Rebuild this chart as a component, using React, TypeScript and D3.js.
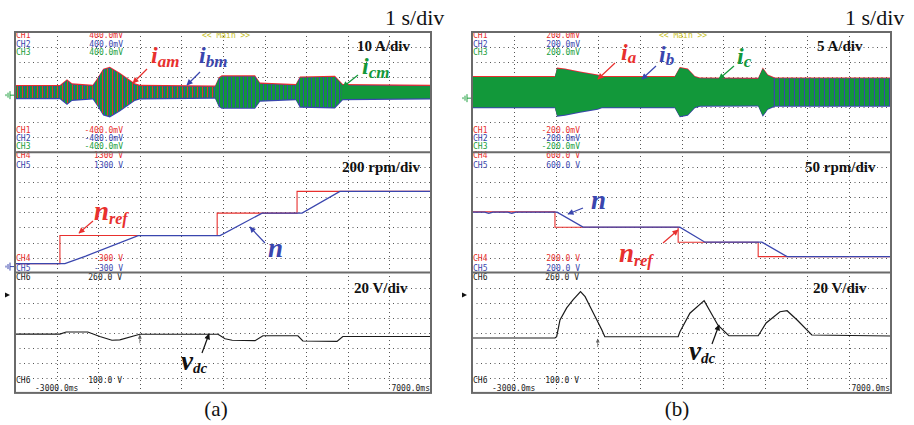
import React from 'react';
import * as d3 from 'd3';

// ---------- DATA ----------
const divisions = d3.range(-3, 8); // time axis, s (1 s/div)

// Panel (a): phase-current envelope (A), 10 A/div
const envTimeA = [-3, -1.92, -1.87, -1.75, -1.63, -1.13, -1.03, -0.88, -0.72, -0.48, -0.12, 0, 1.81, 1.9, 1.97, 2.77, 2.89, 3.75, 3.85, 4.69, 4.88, 7];
const envAmpA = [3.9, 3.9, 5, 7.7, 5, 4, 8, 14.7, 16, 12, 5, 4, 3.5, 9, 10.3, 10.3, 5.5, 4.5, 9.5, 10, 4.5, 4];
// Panel (b): phase-current envelope (A), 5 A/div
const envTimeB = [-3, -1.02, -0.97, -0.78, -0.42, 0.0, 0.1, 1.84, 1.96, 2.15, 2.32, 2.44, 3.83, 3.94, 4.06, 4.23, 7];
const envAmpB = [5.0, 5.0, 7.8, 7.5, 6.5, 5.5, 5.0, 5.0, 8.0, 7.5, 5.0, 4.5, 4.4, 7.8, 5.5, 4.5, 4.5];

// Speed, panel (a) (CH4/CH5 units, 200 rpm/div)
const nRefTimeA = [-3, -1.92, -1.92, 1.86, 1.86, 3.78, 3.78, 7];
const nRefValA = [-180, -180, 193, 193, 491, 491, 780, 780];
const nTimeA = [-3, -1.8, -1.5, -1.3, -0.04, 1.93, 2.94, 3.9, 4.81, 7];
const nValA = [-180, -180, -120, -80, 193, 193, 491, 491, 780, 780];
// Speed, panel (b) (50 rpm/div)
const nRefTimeB = [-3, -1.02, -1.02, 1.92, 1.92, 3.83, 3.83, 7];
const nRefValB = [402, 402, 351, 351, 301, 301, 253, 253];
const nTimeB = [-3, -2.7, -2.6, -2.5, -2.15, -2.05, -1.95, -0.97, -0.35, 1.96, 2.56, 3.92, 4.52, 7];
const nValB = [401, 401, 397, 401, 401, 397, 401, 401, 351, 351, 301, 301, 253, 253];

// DC-link voltage (V), 20 V/div
const vdcTimeA = [-3, -1.92, -1.77, -1.25, -0.96, -0.67, -0.48, 0, 1.88, 2.05, 2.22, 2.77, 2.96, 3.8, 3.92, 4.74, 4.88, 7];
const vdcValA = [178.3, 178.3, 181, 181, 175, 170, 170.5, 178, 178, 172, 170, 169.5, 176, 176, 169, 168.5, 175, 175];
const vdcTimeB = [-3, -1.02, -0.98, -0.9, -0.74, -0.59, -0.41, -0.3, -0.18, -0.02, 0.1, 0.17, 1.92, 1.96, 2.2, 2.54, 2.87, 3.13, 3.83, 4.02, 4.35, 4.52, 4.76, 5.11, 7];
const vdcValB = [173, 173, 174.7, 197, 213, 223.6, 234.7, 228, 214.7, 197, 183.6, 174.7, 174.7, 181, 206, 222.7, 190, 176, 176, 193, 208, 209.3, 197, 177, 175.7];

// ---------- LAYOUT / STYLE ----------
const RED = '#e8302e';
const BLUE = '#3a46ae';
const GREEN = '#12983a';
const frameTop = 32;
const rowH = 120.3;
const rows = [0, 1, 2].map(i => [frameTop + i * rowH, frameTop + (i + 1) * rowH]);
const frameBottom = rows[2][1];
const mono = "'DejaVu Sans Mono', monospace";
const serif = "'Liberation Serif', 'Times New Roman', serif";

type Seg = { t0: number; t1: number; fill: string };
type Ann = { x: number; y: number; main: string; sub: string; color: string; size: number; subSize: number; dy: number; ax1: number; ay1: number; ax2: number; ay2: number };

interface PanelCfg {
  id: string; x0: number; x1: number;
  curDiv: number; envT: number[]; envA: number[]; segs: Seg[];
  fringe: number;
  spdDomain: [number, number];
  refT: number[]; refV: number[]; nT: number[]; nV: number[];
  vT: number[]; vV: number[];
  chTop: string; chBot: string; spTop: string; spBot: string;
  curTitle: string; spTitle: string; vTitle: string;
  curTitleX: number; spTitleX: number; vTitleX: number;
  caption: string; capX: number; sdivX: number;
  anns: Ann[];
}

const panels: PanelCfg[] = [
  {
    id: 'a', x0: 15, x1: 431, curDiv: 10, envT: envTimeA, envA: envAmpA, fringe: 0.9,
    segs: [{ t0: -3, t1: 1.85, fill: 'url(#pMix)' }, { t0: 1.85, t1: 4.85, fill: 'url(#pGB)' }, { t0: 4.85, t1: 7, fill: GREEN }],
    spdDomain: [-300, 1300], refT: nRefTimeA, refV: nRefValA, nT: nTimeA, nV: nValA,
    vT: vdcTimeA, vV: vdcValA,
    chTop: '400.0mV', chBot: '-400.0mV', spTop: '1300 V', spBot: '-300 V',
    curTitle: '10 A/div', spTitle: '200 rpm/div', vTitle: '20 V/div',
    curTitleX: 357, spTitleX: 342, vTitleX: 354, caption: '(a)', capX: 216, sdivX: 385,
    anns: [
      { x: 151, y: 63, main: 'i', sub: 'am', color: RED, size: 24, subSize: 17, dy: 4, ax1: 147, ay1: 69, ax2: 133, ay2: 83 },
      { x: 199, y: 63, main: 'i', sub: 'bm', color: BLUE, size: 24, subSize: 17, dy: 4, ax1: 200, ay1: 72, ax2: 187, ay2: 85 },
      { x: 362, y: 74, main: 'i', sub: 'cm', color: GREEN, size: 24, subSize: 17, dy: 4, ax1: 358, ay1: 75, ax2: 343, ay2: 87 },
      { x: 94, y: 220, main: 'n', sub: 'ref', color: RED, size: 27, subSize: 16, dy: 4, ax1: 93, ay1: 221, ax2: 79, ay2: 233 },
      { x: 268, y: 257, main: 'n', sub: '', color: BLUE, size: 27, subSize: 16, dy: 0, ax1: 265, ay1: 243, ax2: 250, ay2: 227 },
      { x: 181, y: 370, main: 'v', sub: 'dc', color: '#111', size: 27, subSize: 15, dy: 3, ax1: 202, ay1: 353, ax2: 209, ay2: 334 },
    ],
  },
  {
    id: 'b', x0: 472, x1: 891, curDiv: 5, envT: envTimeB, envA: envAmpB, fringe: 0.7,
    segs: [{ t0: -3, t1: 4.2, fill: GREEN }, { t0: 4.2, t1: 7, fill: 'url(#pGB5)' }],
    spdDomain: [200, 600], refT: nRefTimeB, refV: nRefValB, nT: nTimeB, nV: nValB,
    vT: vdcTimeB, vV: vdcValB,
    chTop: '200.0mV', chBot: '-200.0mV', spTop: '600.0 V', spBot: '200.0 V',
    curTitle: '5 A/div', spTitle: '50 rpm/div', vTitle: '20 V/div',
    curTitleX: 817, spTitleX: 805, vTitleX: 813, caption: '(b)', capX: 677, sdivX: 845,
    anns: [
      { x: 621, y: 60, main: 'i', sub: 'a', color: RED, size: 24, subSize: 17, dy: 3, ax1: 615, ay1: 63, ax2: 598, ay2: 79 },
      { x: 659, y: 62, main: 'i', sub: 'b', color: BLUE, size: 24, subSize: 17, dy: 3, ax1: 656, ay1: 66, ax2: 642, ay2: 79 },
      { x: 737, y: 64, main: 'i', sub: 'c', color: GREEN, size: 24, subSize: 17, dy: 3, ax1: 734, ay1: 66, ax2: 719, ay2: 79 },
      { x: 591, y: 209, main: 'n', sub: '', color: BLUE, size: 27, subSize: 16, dy: 0, ax1: 583, ay1: 208, ax2: 568, ay2: 214 },
      { x: 619, y: 262, main: 'n', sub: 'ref', color: RED, size: 27, subSize: 16, dy: 4, ax1: 663, ay1: 243, ax2: 678, ay2: 230 },
      { x: 689, y: 360, main: 'v', sub: 'dc', color: '#111', size: 27, subSize: 15, dy: 3, ax1: 712, ay1: 344, ax2: 719, ay2: 325 },
    ],
  },
];

function markerId(c: string) {
  return c === RED ? 'arRed' : c === BLUE ? 'arBlue' : c === GREEN ? 'arGreen' : 'arBlack';
}

function Panel({ p }: { p: PanelCfg }) {
  const x = d3.scaleLinear().domain([-3, 7]).range([p.x0, p.x1]);
  const yCur = d3.scaleLinear().domain([-4 * p.curDiv, 4 * p.curDiv]).range([rows[0][1], rows[0][0]]);
  const ySpd = d3.scaleLinear().domain(p.spdDomain).range([rows[1][1], rows[1][0]]);
  const yV = d3.scaleLinear().domain([100, 260]).range([rows[2][1], rows[2][0]]);
  const idx = p.envT.map((_, i) => i);
  const band = (grow: number, shift: number) =>
    d3.area<number>()
      .x(i => x(p.envT[i]))
      .y0(i => yCur(p.envA[i]) - grow + shift)
      .y1(i => yCur(-p.envA[i]) + grow + shift)(idx) || '';
  const line = (T: number[], V: number[], ys: d3.ScaleLinear<number, number>) =>
    d3.line<number>().x(i => x(T[i])).y(i => ys(V[i]))(T.map((_, i) => i)) || '';
  const lx = p.x0 + 1;
  const vx = p.x0 + 108;
  const W = p.x1 - p.x0;
  const v0 = p.vV[p.vT.indexOf(0)] ?? p.vV[0];
  return (
    <g>
      {/* grid */}
      {divisions.slice(1, -1).map(t => (
        <line key={'v' + t} x1={Math.round(x(t)) + 0.5} x2={Math.round(x(t)) + 0.5} y1={frameTop} y2={frameBottom} stroke="#555" strokeWidth={1} strokeDasharray="1 3" />
      ))}
      {rows.map((r, ri) => d3.range(1, 8).map(k => {
        const y = Math.round(r[0] + (k * rowH) / 8) + 0.5;
        return <line key={'h' + ri + k} x1={p.x0} x2={p.x1} y1={y} y2={y} stroke="#555" strokeWidth={1} strokeDasharray="1 3.5" />;
      }))}
      {/* scope texts */}
      <g fontFamily={mono} fontSize={8}>
        {[['CH1', RED, 38], ['CH2', BLUE, 46.5], ['CH3', '#22a040', 55]].map(([c, col, y]) => (
          <g key={'t' + c}>
            <text x={lx} y={y as number} fill={col as string}>{c}</text>
            <text x={vx} y={y as number} fill={col as string} textAnchor="end">{p.chTop}</text>
          </g>
        ))}
        {[['CH1', RED, 133], ['CH2', BLUE, 141], ['CH3', '#22a040', 149]].map(([c, col, y]) => (
          <g key={'b' + c}>
            <text x={lx} y={y as number} fill={col as string}>{c}</text>
            <text x={vx} y={y as number} fill={col as string} textAnchor="end">{p.chBot}</text>
          </g>
        ))}
        <text x={p.x0 + 187} y={38} fill="#c8c21e">{'<< Main >>'}</text>
        {[['CH4', RED, 158], ['CH5', BLUE, 167.5]].map(([c, col, y]) => (
          <g key={'s' + c}>
            <text x={lx} y={y as number} fill={col as string}>{c}</text>
            <text x={vx} y={y as number} fill={col as string} textAnchor="end">{p.spTop}</text>
          </g>
        ))}
        {[['CH4', RED, 261], ['CH5', BLUE, 270.5]].map(([c, col, y]) => (
          <g key={'sb' + c}>
            <text x={lx} y={y as number} fill={col as string}>{c}</text>
            <text x={vx} y={y as number} fill={col as string} textAnchor="end">{p.spBot}</text>
          </g>
        ))}
        <text x={lx} y={280} fill="#222">CH6</text>
        <text x={vx - 1} y={280} fill="#222" textAnchor="end">260.0 V</text>
        <text x={lx} y={383} fill="#222">CH6</text>
        <text x={vx - 1} y={383} fill="#222" textAnchor="end">100.0 V</text>
        <text x={p.x0 + 20} y={391} fill="#222">-3000.0ms</text>
        <text x={p.x1 - 1} y={391} fill="#222" textAnchor="end">7000.0ms</text>
      </g>
      {/* currents */}
      <defs>
        {p.segs.map((s, i) => (
          <clipPath id={`clip-${p.id}-${i}`} key={i}>
            <rect x={x(s.t0)} y={rows[0][0]} width={x(s.t1) - x(s.t0)} height={rowH} />
          </clipPath>
        ))}
      </defs>
      <path d={band(p.fringe, -0.5)} fill={RED} />
      <path d={band(p.fringe * 0.8, 0.5)} fill={BLUE} />
      {p.segs.map((s, i) => (
        <path key={i} d={band(0, 0)} fill={s.fill} clipPath={`url(#clip-${p.id}-${i})`} />
      ))}
      {/* speed */}
      <path d={line(p.refT, p.refV, ySpd)} fill="none" stroke={RED} strokeWidth={1.1} />
      <path d={line(p.nT, p.nV, ySpd)} fill="none" stroke={BLUE} strokeWidth={1.3} />
      {/* vdc */}
      <path d={line(p.vT, p.vV, yV)} fill="none" stroke="#1a1a1a" strokeWidth={1.2} />
      {/* trigger marker */}
      <line x1={x(0)} x2={x(0)} y1={yV(v0) + 9} y2={yV(v0) + 1} stroke="#666" strokeWidth={0.8} markerEnd="url(#arGray)" />
      {/* side markers */}
      <g transform={`translate(${p.x0 - 9},${yCur(-2)})`} stroke="#22a040" strokeWidth={1} fill="none">
        <path d="M0,0 H4 M4,-4 V4 M6,-2.5 V2.5 M8,-1 V1" transform="rotate(180 4 0)" />
      </g>
      {p.id === 'a' && (
        <g transform={`translate(${p.x0 - 9},${ySpd(-220)})`} stroke={BLUE} strokeWidth={1} fill="none">
          <path d="M0,0 H4 M4,-4 V4 M6,-2.5 V2.5 M8,-1 V1" transform="rotate(180 4 0)" />
        </g>
      )}
      <path d={`M${p.x0 - 10},${rows[2][0] + 20} l5,2.5 l-5,2.5 z`} fill="#111" />
      {/* frame */}
      <rect x={p.x0} y={frameTop} width={W} height={frameBottom - frameTop} fill="none" stroke="#6a6a6a" strokeWidth={2} />
      <line x1={p.x0} x2={p.x1} y1={rows[1][0]} y2={rows[1][0]} stroke="#6a6a6a" strokeWidth={2} />
      <line x1={p.x0} x2={p.x1} y1={rows[2][0]} y2={rows[2][0]} stroke="#6a6a6a" strokeWidth={2} />
      {/* titles */}
      <g fontFamily={serif} fontWeight="bold" fontSize={15} fill="#111">
        <text x={p.curTitleX} y={51}>{p.curTitle}</text>
        <text x={p.spTitleX} y={172}>{p.spTitle}</text>
        <text x={p.vTitleX} y={293}>{p.vTitle}</text>
      </g>
      <text x={p.sdivX} y={25} fontFamily={serif} fontSize={22} fill="#111">1 s/div</text>
      <text x={p.capX} y={416} fontFamily={serif} fontSize={21} fill="#111" textAnchor="middle">{p.caption}</text>
      {/* annotations */}
      {p.anns.map((a, i) => (
        <g key={'a' + i}>
          <line x1={a.ax1} y1={a.ay1} x2={a.ax2} y2={a.ay2} stroke={a.color} strokeWidth={1.2} markerEnd={`url(#${markerId(a.color)})`} />
          <text x={a.x} y={a.y} fontFamily={serif} fontWeight="bold" fontStyle="italic" fontSize={a.size} fill={a.color}>
            {a.main}
            {a.sub && <tspan fontSize={a.subSize} dy={a.dy}>{a.sub}</tspan>}
          </text>
        </g>
      ))}
    </g>
  );
}

export default function App() {
  const mk = (id: string, c: string) => (
    <marker id={id} viewBox="0 0 10 10" refX={9} refY={5} markerWidth={6} markerHeight={5} orient="auto">
      <path d="M0,0 L10,5 L0,10 z" fill={c} />
    </marker>
  );
  return (
    <svg width={914} height={425} style={{ position: 'absolute', left: 0, top: 0, background: '#fff' }}>
      <defs>
        {mk('arRed', RED)}
        {mk('arBlue', BLUE)}
        {mk('arGreen', GREEN)}
        {mk('arBlack', '#111')}
        {mk('arGray', '#666')}
        <pattern id="pMix" width={5} height={4} patternUnits="userSpaceOnUse">
          <rect x={0} y={0} width={2} height={4} fill={GREEN} />
          <rect x={2} y={0} width={1} height={4} fill={RED} />
          <rect x={3} y={0} width={1} height={4} fill={GREEN} />
          <rect x={4} y={0} width={1} height={4} fill={BLUE} />
        </pattern>
        <pattern id="pGB" width={4} height={4} patternUnits="userSpaceOnUse">
          <rect x={0} y={0} width={3} height={4} fill={GREEN} />
          <rect x={3} y={0} width={1} height={4} fill={BLUE} />
        </pattern>
        <pattern id="pGB5" width={5} height={4} patternUnits="userSpaceOnUse">
          <rect x={0} y={0} width={4} height={4} fill={GREEN} />
          <rect x={4} y={0} width={1} height={4} fill={BLUE} />
        </pattern>
      </defs>
      {panels.map(p => <Panel key={p.id} p={p} />)}
    </svg>
  );
}
